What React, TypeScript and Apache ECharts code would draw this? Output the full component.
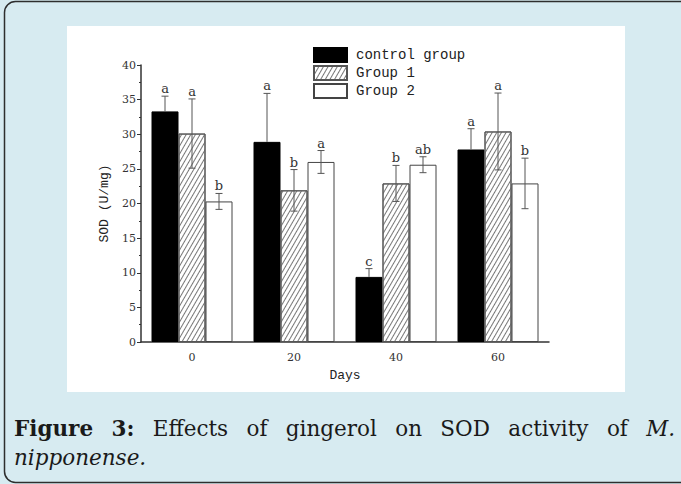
import React, { useEffect, useRef } from "react";
import * as echarts from "echarts";

const days = ["0", "20", "40", "60"];
const seriesNames = ["control group", "Group 1", "Group 2"];
const controlMean = [33.3, 28.9, 9.4, 27.8];
const controlErr = [2.2, 7.0, 1.2, 3.0];
const group1Mean = [30.1, 21.9, 22.9, 30.4];
const group1Err = [5.0, 3.0, 2.6, 5.55];
const group2Mean = [20.3, 26.0, 25.6, 22.9];
const group2Err = [1.15, 1.65, 1.15, 3.65];
const controlLetters = ["a", "a", "c", "a"];
const group1Letters = ["a", "b", "b", "a"];
const group2Letters = ["b", "a", "ab", "b"];
const yTicks = { min: 0, max: 40, interval: 5 };

const captionLine1 = [
  { t: "Figure", w: "bold", s: "normal" },
  { t: "3:", w: "bold", s: "normal" },
  { t: "Effects", w: "normal", s: "normal" },
  { t: "of", w: "normal", s: "normal" },
  { t: "gingerol", w: "normal", s: "normal" },
  { t: "on", w: "normal", s: "normal" },
  { t: "SOD", w: "normal", s: "normal" },
  { t: "activity", w: "normal", s: "normal" },
  { t: "of", w: "normal", s: "normal" },
  { t: "M.", w: "normal", s: "italic" },
];
const captionLine2 = [{ t: "nipponense.", w: "normal", s: "italic" }];

const BAR_W = 27;
const CAP_FONT = "DejaVu Serif";
const CAP_SIZE = 21.5;

function measure(text: string, weight: string, style: string) {
  const c = document.createElement("canvas").getContext("2d");
  if (!c) return text.length * 10;
  c.font = `${style} ${weight} ${CAP_SIZE}px "${CAP_FONT}"`;
  return c.measureText(text).width;
}

function captionElements() {
  const left = 14;
  const right = 675;
  const els: any[] = [];
  const widths = captionLine1.map((w) => measure(w.t, w.w, w.s));
  const total = widths.reduce((a, b) => a + b, 0);
  const gap = (right - left - total) / (captionLine1.length - 1);
  let x = left;
  captionLine1.forEach((w, i) => {
    els.push({
      type: "text",
      x,
      y: 428,
      style: {
        text: w.t,
        fontFamily: CAP_FONT,
        fontSize: CAP_SIZE,
        fontWeight: w.w,
        fontStyle: w.s,
        fill: "#1a1a1a",
        verticalAlign: "middle",
        align: "left",
      },
    });
    x += widths[i] + gap;
  });
  captionLine2.forEach((w) => {
    els.push({
      type: "text",
      x: left,
      y: 457,
      style: {
        text: w.t,
        fontFamily: CAP_FONT,
        fontSize: CAP_SIZE,
        fontWeight: w.w,
        fontStyle: w.s,
        fill: "#1a1a1a",
        verticalAlign: "middle",
        align: "left",
      },
    });
  });
  return els;
}

function errRender(offset: number, upOnly: boolean, letters: string[]) {
  return (params: any, api: any) => {
    const idx = api.value(0);
    const mean = api.value(1);
    const err = api.value(2);
    const top = api.coord([idx, mean + err]);
    const bot = api.coord([idx, upOnly ? mean : mean - err]);
    const x = top[0] + offset;
    const cap = 3.5;
    const ls = { stroke: "#555", lineWidth: 1 };
    const children: any[] = [
      { type: "line", shape: { x1: x, y1: top[1], x2: x, y2: bot[1] }, style: ls },
      { type: "line", shape: { x1: x - cap, y1: top[1], x2: x + cap, y2: top[1] }, style: ls },
    ];
    if (!upOnly) {
      children.push({ type: "line", shape: { x1: x - cap, y1: bot[1], x2: x + cap, y2: bot[1] }, style: ls });
    }
    children.push({
      type: "text",
      x,
      y: top[1] - 1,
      style: {
        text: letters[params.dataIndex],
        fontFamily: "DejaVu Serif",
        fontSize: 13,
        fill: "#333",
        align: "center",
        verticalAlign: "bottom",
      },
    });
    return { type: "group", children };
  };
}

export default function App() {
  const ref = useRef<HTMLDivElement>(null);
  useEffect(() => {
    if (!ref.current) return;
    const chart = echarts.init(ref.current, null, { renderer: "svg" });
    const mk = (mean: number[], err: number[]) => days.map((_, i) => [i, mean[i], err[i]]);
    const option: any = {
      animation: false,
      backgroundColor: "#d7ebf1",
      grid: { left: 141, top: 65, width: 408, height: 277, containLabel: false },
      legend: {
        data: seriesNames,
        orient: "vertical",
        left: 313,
        top: 47,
        itemWidth: 33,
        itemHeight: 14,
        itemGap: 2,
        padding: 0,
        icon: "rect",
        textStyle: { fontFamily: "Liberation Mono", fontSize: 14, color: "#222", padding: [0, 0, 0, 4] },
      },
      xAxis: [
        {
          type: "category",
          data: days,
          boundaryGap: true,
          axisLine: { lineStyle: { color: "#333", width: 1.5 } },
          axisTick: { alignWithLabel: true, length: 4, lineStyle: { color: "#333" } },
          axisLabel: { color: "#333", fontFamily: "DejaVu Serif", fontSize: 11, margin: 10 },
          name: "Days",
          nameLocation: "middle",
          nameGap: 27,
          nameTextStyle: { fontFamily: "Liberation Mono", fontSize: 13, color: "#222" },
        },
        {
          type: "category",
          data: days,
          position: "bottom",
          boundaryGap: true,
          axisLine: { show: false },
          axisTick: { length: 2, interval: 0, lineStyle: { color: "#333" } },
          axisLabel: { show: false },
        },
      ],
      yAxis: {
        type: "value",
        min: yTicks.min,
        max: yTicks.max,
        interval: yTicks.interval,
        axisLine: { show: true, lineStyle: { color: "#333", width: 1.5 } },
        axisTick: { show: true, length: 4, lineStyle: { color: "#333" } },
        minorTick: { show: true, splitNumber: 2, length: 2, lineStyle: { color: "#333" } },
        splitLine: { show: false },
        axisLabel: { color: "#333", fontFamily: "DejaVu Serif", fontSize: 11, margin: 5 },
        name: "SOD (U/mg)",
        nameLocation: "middle",
        nameRotate: 90,
        nameGap: 18,
        nameTextStyle: { fontFamily: "Liberation Mono", fontSize: 13, color: "#222" },
      },
      graphic: [
        {
          type: "rect",
          z: -100,
          shape: { x: 4.5, y: 1.5, width: 720, height: 481, r: 11 },
          style: { fill: "#d7ebf1", stroke: "#2e2e2e", lineWidth: 1.5 },
        },
        {
          type: "rect",
          z: -90,
          shape: { x: 67, y: 26, width: 558, height: 366 },
          style: { fill: "#ffffff" },
        },
        ...captionElements(),
      ],
      series: [
        {
          name: seriesNames[0],
          type: "bar",
          data: controlMean,
          barWidth: BAR_W,
          barGap: "0%",
          itemStyle: { color: "#000", borderColor: "#000", borderWidth: 1 },
        },
        {
          name: seriesNames[1],
          type: "bar",
          data: group1Mean,
          barWidth: BAR_W,
          barGap: "0%",
          itemStyle: {
            color: "#fff",
            borderColor: "#555",
            borderWidth: 1,
            decal: {
              symbol: "rect",
              symbolSize: 1,
              color: "#777",
              backgroundColor: "#fff",
              dashArrayX: [1, 0],
              dashArrayY: [1, 3],
              rotation: -Math.PI / 3,
            },
          },
        },
        {
          name: seriesNames[2],
          type: "bar",
          data: group2Mean,
          barWidth: BAR_W,
          barGap: "0%",
          itemStyle: { color: "#fff", borderColor: "#444", borderWidth: 1 },
        },
        {
          type: "custom",
          z: 5,
          data: mk(controlMean, controlErr),
          encode: { x: 0, y: 1 },
          renderItem: errRender(-BAR_W, true, controlLetters),
        },
        {
          type: "custom",
          z: 5,
          data: mk(group1Mean, group1Err),
          encode: { x: 0, y: 1 },
          renderItem: errRender(0, false, group1Letters),
        },
        {
          type: "custom",
          z: 5,
          data: mk(group2Mean, group2Err),
          encode: { x: 0, y: 1 },
          renderItem: errRender(BAR_W, false, group2Letters),
        },
      ],
    };
    chart.setOption(option);
    return () => chart.dispose();
  }, []);
  return (
    <div
      ref={ref}
      style={{ position: "fixed", left: 0, top: 0, width: 681, height: 484 }}
    />
  );
}
